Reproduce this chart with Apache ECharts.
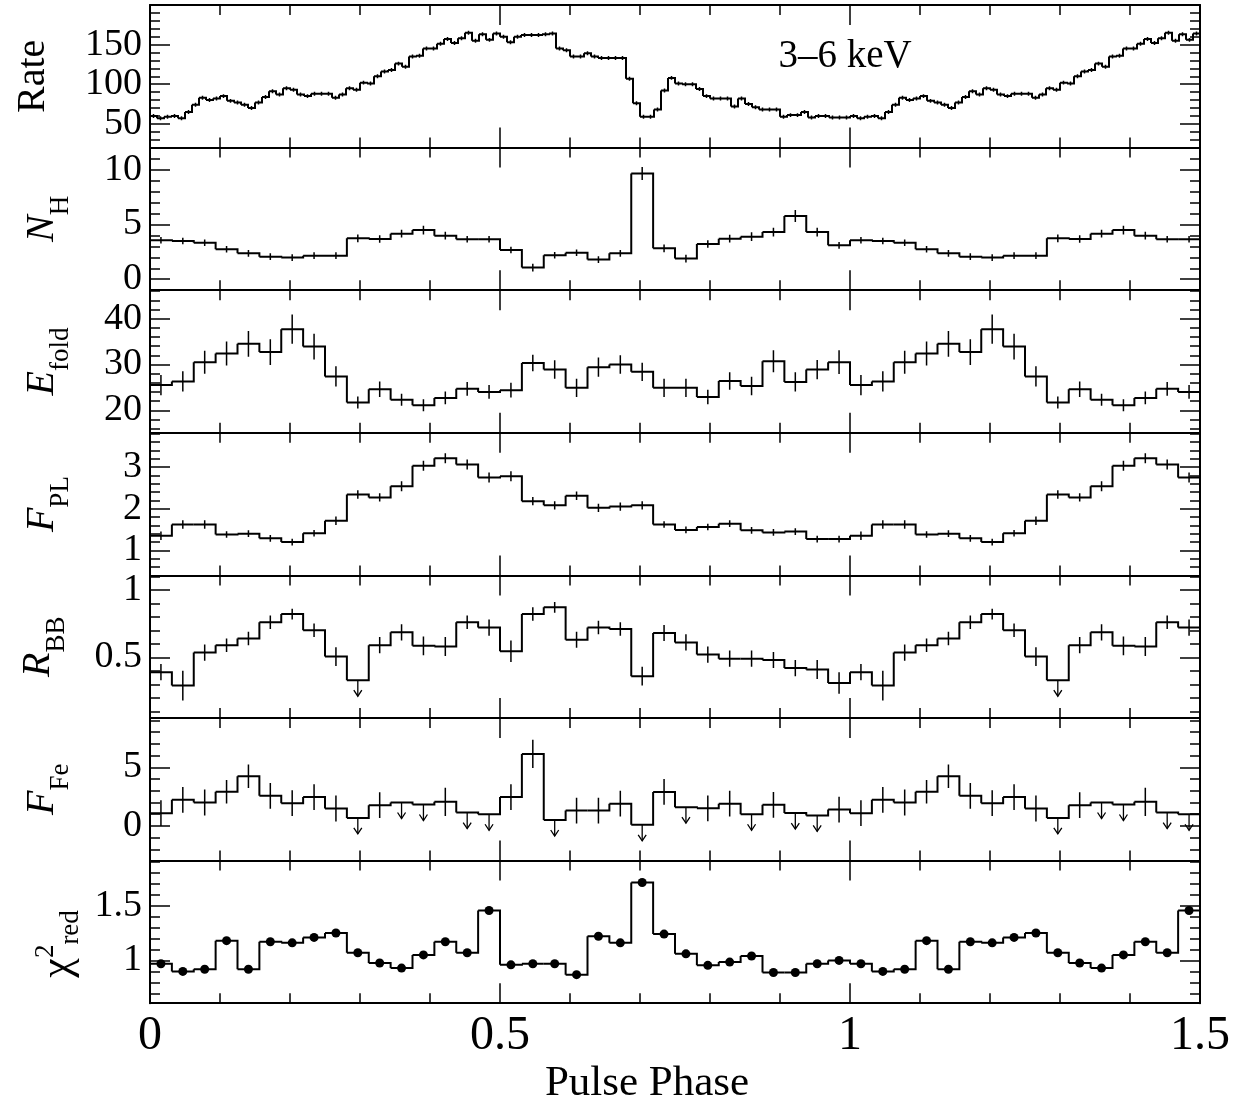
<!DOCTYPE html>
<html>
<head>
<meta charset="utf-8">
<script src="https://cdn.jsdelivr.net/npm/echarts@6/dist/echarts.min.js"></script>
<style>
  html, body { margin: 0; padding: 0; background: #fff; }
  #pulse-chart { width: 1235px; height: 1110px; }
</style>
</head>
<body>
<div id="pulse-chart"></div>
<script>
// ---- data (pulse phase resolved spectroscopy, 3-6 keV) ----
// count rate, 100 bins per cycle, shown over 1.5 cycles
const rateValues = [
  60, 57, 59, 60, 57, 65, 74, 83, 80, 82,
  85, 79, 77, 74, 70, 77, 84, 91, 87, 95,
  93, 87, 85, 88, 88, 88, 83, 87, 95, 93,
  102, 101, 110, 116, 118, 126, 122, 135, 136, 145,
  145, 151, 157, 152, 158, 165, 155, 163, 156, 164,
  160, 153, 160, 162, 162, 162, 163, 164, 145, 143,
  135, 135, 139, 135, 133, 133, 133, 133, 107, 76,
  59, 59, 68, 92, 108, 101, 100, 100, 94, 85,
  82, 82, 82, 72, 82, 75, 71, 68, 68, 68,
  59, 61, 61, 65, 58, 60, 60, 58, 58, 58,
  60, 57, 59, 60, 57, 65, 74, 83, 80, 82,
  85, 79, 77, 74, 70, 77, 84, 91, 87, 95,
  93, 87, 85, 88, 88, 88, 83, 87, 95, 93,
  102, 101, 110, 116, 118, 126, 122, 135, 136, 145,
  145, 151, 157, 152, 158, 165, 155, 163, 156, 164
];
const rateErr = 2.5;

// spectral parameters, 32 bins per cycle, shown over 1.5 cycles
const nH = [
  3.55, 3.48, 3.33, 2.73, 2.36, 2.06, 1.97, 2.15, 2.15, 3.73, 3.67, 4.15, 4.48, 3.97, 3.64, 3.64,
  2.67, 1.06, 2.18, 2.42, 1.79, 2.36, 9.64, 2.82, 1.88, 3.21, 3.70, 3.88, 4.30, 5.76, 4.30, 3.09,
  3.55, 3.48, 3.33, 2.73, 2.36, 2.06, 1.97, 2.15, 2.15, 3.73, 3.67, 4.15, 4.48, 3.97, 3.64, 3.64
];
const nHErr = [
  0.3, 0.3, 0.3, 0.3, 0.3, 0.3, 0.3, 0.3, 0.3, 0.35, 0.35, 0.35, 0.4, 0.35, 0.3, 0.3,
  0.3, 0.35, 0.3, 0.3, 0.3, 0.3, 0.6, 0.35, 0.35, 0.35, 0.35, 0.4, 0.4, 0.55, 0.4, 0.3,
  0.3, 0.3, 0.3, 0.3, 0.3, 0.3, 0.3, 0.3, 0.3, 0.35, 0.35, 0.35, 0.4, 0.35, 0.3, 0.3
];
const eFold = [
  25.5, 26.3, 30.5, 32.4, 34.5, 32.7, 37.7, 33.9, 27.4, 21.7, 24.6, 22.3, 21.1, 22.7, 24.7, 24.0,
  24.4, 30.3, 28.9, 24.9, 29.4, 30.0, 28.4, 24.9, 24.9, 22.9, 26.4, 25.3, 30.7, 26.2, 28.9, 30.5,
  25.5, 26.3, 30.5, 32.4, 34.5, 32.7, 37.7, 33.9, 27.4, 21.7, 24.6, 22.3, 21.1, 22.7, 24.7, 24.0
];
const eFoldErr = [
  2.2, 2.2, 2.5, 2.6, 2.8, 2.8, 3.2, 2.8, 2.2, 1.3, 1.7, 1.3, 1.3, 1.4, 1.5, 1.5,
  1.6, 1.8, 2.0, 2.0, 2.1, 2.0, 2.0, 2.0, 2.0, 1.6, 1.9, 2.0, 2.4, 2.1, 2.1, 2.6,
  2.2, 2.2, 2.5, 2.6, 2.8, 2.8, 3.2, 2.8, 2.2, 1.3, 1.7, 1.3, 1.3, 1.4, 1.5, 1.5
];
const fPL = [
  1.35, 1.62, 1.62, 1.38, 1.40, 1.29, 1.20, 1.41, 1.71, 2.34, 2.27, 2.54, 3.03, 3.21, 3.06, 2.75,
  2.78, 2.18, 2.08, 2.31, 2.02, 2.05, 2.08, 1.62, 1.49, 1.56, 1.64, 1.48, 1.43, 1.45, 1.27, 1.27,
  1.35, 1.62, 1.62, 1.38, 1.40, 1.29, 1.20, 1.41, 1.71, 2.34, 2.27, 2.54, 3.03, 3.21, 3.06, 2.75
];
const fPLErr = [
  0.1, 0.1, 0.1, 0.08, 0.08, 0.08, 0.08, 0.08, 0.1, 0.1, 0.1, 0.12, 0.12, 0.12, 0.12, 0.12,
  0.12, 0.1, 0.1, 0.1, 0.1, 0.1, 0.1, 0.08, 0.08, 0.08, 0.08, 0.08, 0.08, 0.08, 0.08, 0.08,
  0.1, 0.1, 0.1, 0.08, 0.08, 0.08, 0.08, 0.08, 0.1, 0.1, 0.1, 0.12, 0.12, 0.12, 0.12, 0.12
];
const rBB = [
  0.39, 0.29, 0.535, 0.59, 0.64, 0.76, 0.82, 0.70, 0.505, 0.33, 0.59, 0.685, 0.585, 0.58, 0.76, 0.72,
  0.545, 0.82, 0.87, 0.63, 0.72, 0.71, 0.36, 0.68, 0.61, 0.52, 0.49, 0.49, 0.48, 0.42, 0.41, 0.31,
  0.39, 0.29, 0.535, 0.59, 0.64, 0.76, 0.82, 0.70, 0.505, 0.33, 0.59, 0.685, 0.585, 0.58, 0.76, 0.72
];
const rBBErr = [
  0.06, 0.11, 0.06, 0.05, 0.05, 0.05, 0.04, 0.05, 0.07, 0, 0.06, 0.06, 0.07, 0.07, 0.05, 0.06,
  0.08, 0.05, 0.04, 0.06, 0.05, 0.05, 0.07, 0.06, 0.06, 0.06, 0.06, 0.06, 0.06, 0.06, 0.07, 0.08,
  0.06, 0.11, 0.06, 0.05, 0.05, 0.05, 0.04, 0.05, 0.07, 0, 0.06, 0.06, 0.07, 0.07, 0.05, 0.06
];
const rBBUpper = [
  0, 0, 0, 0, 0, 0, 0, 0, 0, 1, 0, 0, 0, 0, 0, 0,
  0, 0, 0, 0, 0, 0, 0, 0, 0, 0, 0, 0, 0, 0, 0, 0,
  0, 0, 0, 0, 0, 0, 0, 0, 0, 1, 0, 0, 0, 0, 0, 0
];
const fFe = [
  1.09, 2.23, 2.0, 2.91, 4.23, 2.57, 1.94, 2.46, 1.49, 0.69, 1.77, 2.0, 1.83, 2.06, 1.14, 1.0,
  2.46, 6.14, 0.51, 1.31, 1.31, 1.9, 0.1, 2.9, 1.6, 1.5, 1.9, 1.0, 1.8, 1.1, 0.9, 1.4,
  1.09, 2.23, 2.0, 2.91, 4.23, 2.57, 1.94, 2.46, 1.49, 0.69, 1.77, 2.0, 1.83, 2.06, 1.14, 1.0
];
const fFeErr = [
  1.1, 1.1, 1.1, 1.0, 1.0, 1.1, 1.1, 1.1, 1.1, 0, 1.1, 0, 0, 1.2, 0, 0,
  1.1, 1.2, 0, 1.1, 1.1, 1.1, 0, 1.1, 0, 1.1, 1.1, 0, 1.1, 0, 0, 1.1,
  1.1, 1.1, 1.1, 1.0, 1.0, 1.1, 1.1, 1.1, 1.1, 0, 1.1, 0, 0, 1.2, 0, 0
];
const fFeUpper = [
  0, 0, 0, 0, 0, 0, 0, 0, 0, 1, 0, 1, 1, 0, 1, 1,
  0, 0, 1, 0, 0, 0, 1, 0, 1, 0, 0, 1, 0, 1, 1, 0,
  0, 0, 0, 0, 0, 0, 0, 0, 0, 1, 0, 1, 1, 0, 1, 1
];
const chiRed = [
  0.97, 0.90, 0.92, 1.18, 0.92, 1.17, 1.16, 1.21, 1.25, 1.07, 0.976, 0.93, 1.05, 1.17, 1.07, 1.455,
  0.96, 0.97, 0.97, 0.87, 1.22, 1.16, 1.71, 1.24, 1.06, 0.955, 0.985, 1.04, 0.89, 0.89, 0.97, 1.0,
  0.97, 0.90, 0.92, 1.18, 0.92, 1.17, 1.16, 1.21, 1.25, 1.07, 0.976, 0.93, 1.05, 1.17, 1.07, 1.455
];

// bin centres in pulse phase
const rateBins = 100;
const paramBins = 32;
const ratePhase = rateValues.map((v, k) => (k + 0.5) / rateBins);
const binPhase = nH.map((v, k) => (k + 0.5) / paramBins);

// tick labels
const phaseTicks = [0, 0.5, 1, 1.5];
const rateTicks = [50, 100, 150];
const nHTicks = [0, 5, 10];
const eFoldTicks = [20, 30, 40];
const fPLTicks = [1, 2, 3];
const rBBTicks = [0.5, 1];
const fFeTicks = [0, 5];
const chiTicks = [1, 1.5];

// ---- layout ----
const serif = '"Liberation Serif", "DejaVu Serif", serif';
const gridLeft = 150, gridWidth = 1050, gridTop = 5, panelH = 142.6;

function steps(a, b, s) {
  const out = [];
  for (let v = a; v <= b + 1e-9; v += s) out.push(Math.round(v * 1000) / 1000);
  return out;
}

const panels = [
  { min: 20, max: 200, major: rateTicks, minor: steps(20, 200, 10) },
  { min: -1, max: 12, major: nHTicks, minor: steps(-1, 12, 1) },
  { min: 15.1, max: 46.2, major: eFoldTicks, minor: steps(16, 46, 2) },
  { min: 0.4, max: 3.82, major: fPLTicks, minor: steps(0.6, 3.8, 0.2) },
  { min: 0.05, max: 1.107, major: rBBTicks, minor: steps(0.1, 1.1, 0.1) },
  { min: -2.95, max: 9.2, major: fFeTicks, minor: steps(-2, 9, 1) },
  { min: 0.61, max: 1.91, major: chiTicks, minor: steps(0.7, 1.9, 0.1) }
];

const grids = [], xAxes = [], yAxes = [], series = [];
const black = '#000';

function tickAxis(kind, g, pos, min, max, values, len, withLine, labels) {
  return {
    type: 'value', gridIndex: g, position: pos, min: min, max: max,
    axisLine: { show: withLine, onZero: false, lineStyle: { color: black, width: 2 } },
    axisTick: { show: true, inside: true, length: len, customValues: values,
                lineStyle: { color: black, width: 1.5 } },
    axisLabel: labels ? {
      show: true, customValues: labels, color: black, fontFamily: serif,
      fontSize: kind === 'x' ? 48 : 38,
      margin: kind === 'x' ? 9 : 8
    } : { show: false },
    splitLine: { show: false }
  };
}

panels.forEach((p, g) => {
  grids.push({ left: gridLeft, width: gridWidth, top: gridTop + g * panelH, height: panelH,
               outerBoundsMode: 'none', containLabel: false });
  const last = g === panels.length - 1;
  const xMinor = steps(0, 1.5, 0.1);
  xAxes.push(tickAxis('x', g, 'bottom', 0, 1.5, xMinor, 10, true, last ? phaseTicks : null));
  xAxes.push(tickAxis('x', g, 'bottom', 0, 1.5, phaseTicks, 20, false, null));
  xAxes.push(tickAxis('x', g, 'top', 0, 1.5, xMinor, 10, true, null));
  xAxes.push(tickAxis('x', g, 'top', 0, 1.5, phaseTicks, 20, false, null));
  yAxes.push(tickAxis('y', g, 'left', p.min, p.max, p.major, 20, true, p.major));
  yAxes.push(tickAxis('y', g, 'left', p.min, p.max, p.minor, 10, false, null));
  yAxes.push(tickAxis('y', g, 'right', p.min, p.max, p.major, 20, true, null));
  yAxes.push(tickAxis('y', g, 'right', p.min, p.max, p.minor, 10, false, null));
});

// histogram-style step line with error bars, upper-limit arrows or markers
function stepSeries(g, phase, vals, errs, upper, binWidth, dots) {
  const hw = binWidth / 2;
  return {
    type: 'custom', xAxisIndex: g * 4, yAxisIndex: g * 4, clip: true, silent: true,
    data: vals.map((v, i) => [phase[i], v, Array.isArray(errs) ? errs[i] : errs,
                              upper ? upper[i] : 0]),
    renderItem(params, api) {
      const i = params.dataIndex;
      const x = api.value(0), v = api.value(1), e = api.value(2), ul = api.value(3);
      const pts = [api.coord([x - hw, v]), api.coord([x + hw, v])];
      if (i + 1 < vals.length) pts.push(api.coord([x + hw, vals[i + 1]]));
      const kids = [{ type: 'polyline', shape: { points: pts },
                      style: { stroke: black, lineWidth: 2, fill: null } }];
      const c = api.coord([x, v]);
      if (ul) {
        kids.push({ type: 'polyline', shape: { points: [[c[0], c[1]], [c[0], c[1] + 16]] },
                    style: { stroke: black, lineWidth: 1.3, fill: null } });
        kids.push({ type: 'polyline',
                    shape: { points: [[c[0] - 4, c[1] + 10], [c[0], c[1] + 16], [c[0] + 4, c[1] + 10]] },
                    style: { stroke: black, lineWidth: 1.3, fill: null } });
      } else if (e > 0) {
        const a = api.coord([x, v - e]), b = api.coord([x, v + e]);
        kids.push({ type: 'line', shape: { x1: a[0], y1: a[1], x2: b[0], y2: b[1] },
                    style: { stroke: black, lineWidth: 1.5 } });
      }
      if (dots) {
        kids.push({ type: 'circle', shape: { cx: c[0], cy: c[1], r: 4.5 },
                    style: { fill: black, stroke: null } });
      }
      return { type: 'group', children: kids };
    }
  };
}

series.push(stepSeries(0, ratePhase, rateValues, rateErr, null, 1 / rateBins, false));
series.push(stepSeries(1, binPhase, nH, nHErr, null, 1 / paramBins, false));
series.push(stepSeries(2, binPhase, eFold, eFoldErr, null, 1 / paramBins, false));
series.push(stepSeries(3, binPhase, fPL, fPLErr, null, 1 / paramBins, false));
series.push(stepSeries(4, binPhase, rBB, rBBErr, rBBUpper, 1 / paramBins, false));
series.push(stepSeries(5, binPhase, fFe, fFeErr, fFeUpper, 1 / paramBins, false));
series.push(stepSeries(6, binPhase, chiRed, 0, null, 1 / paramBins, true));

// axis titles (rotated, with sub/superscripts)
const rich = {
  m: { fontFamily: serif, fontSize: 40, lineHeight: 64, verticalAlign: 'middle', fill: black },
  i: { fontFamily: serif, fontSize: 40, fontStyle: 'italic', lineHeight: 64, verticalAlign: 'middle', fill: black },
  s: { fontFamily: serif, fontSize: 27, lineHeight: 27, verticalAlign: 'bottom', fill: black },
  c: { fontFamily: serif, fontSize: 44, lineHeight: 52, verticalAlign: 'middle', fill: black },
  cp: { fontFamily: serif, fontSize: 27, lineHeight: 27, verticalAlign: 'top', fill: black },
  cs: { fontFamily: serif, fontSize: 27, lineHeight: 27, verticalAlign: 'bottom', fill: black }
};
function yTitle(text, x, y) {
  return { type: 'text', x: x, y: y, rotation: Math.PI / 2, silent: true,
           style: { text: text, rich: rich, align: 'center', verticalAlign: 'middle', fill: black } };
}

const chart = echarts.init(document.getElementById('pulse-chart'), null, { renderer: 'canvas' });
chart.setOption({
  animation: false,
  backgroundColor: '#fff',
  grid: grids,
  xAxis: xAxes,
  yAxis: yAxes,
  series: series,
  graphic: [
    yTitle('{m|Rate}', 33, gridTop + 0.5 * panelH),
    yTitle('{i|N}{s|H}', 42, gridTop + 1.5 * panelH),
    yTitle('{i|E}{s|fold}', 42, gridTop + 2.5 * panelH),
    yTitle('{i|F}{s|PL}', 42, gridTop + 3.5 * panelH),
    yTitle('{i|R}{s|BB}', 38, gridTop + 4.5 * panelH),
    yTitle('{i|F}{s|Fe}', 42, gridTop + 5.5 * panelH),
    yTitle('{c|χ}{cp|2}{cs|red}', 58, gridTop + 6.5 * panelH + 12),
    { type: 'text', x: 845, y: 57, silent: true,
      style: { text: '3–6 keV', fontFamily: serif, fontSize: 39, fill: black,
               align: 'center', verticalAlign: 'middle' } },
    { type: 'text', x: 647, y: 1084, silent: true,
      style: { text: 'Pulse Phase', fontFamily: serif, fontSize: 43, fill: black,
               align: 'center', verticalAlign: 'middle' } }
  ]
});
</script>
</body>
</html>
